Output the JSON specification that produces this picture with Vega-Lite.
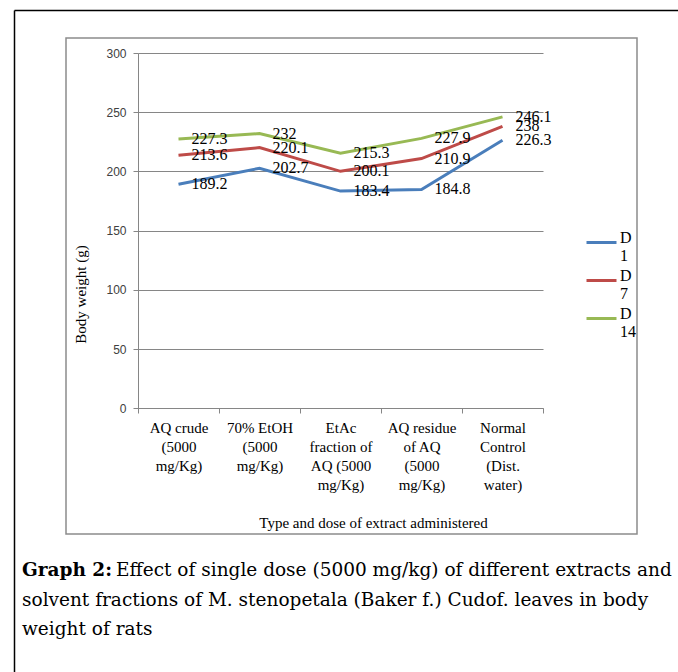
{
  "$schema": "https://vega.github.io/schema/vega-lite/v6.json",
  "width": 571,
  "height": 496,
  "autosize": {"type": "none"},
  "padding": {"left": 66, "top": 38, "right": 41, "bottom": 138},
  "background": "white",
  "view": {"stroke": "#8c8c8c", "strokeWidth": 1.5},
  "title": {
    "text": "Graph 2:",
    "subtitle": [
      "\u200b\u00a0\u00a0\u00a0\u00a0\u00a0\u00a0\u00a0\u00a0\u00a0\u00a0\u00a0\u00a0\u00a0\u00a0\u00a0\u00a0Effect of single dose (5000 mg/kg) of different extracts and",
      "solvent fractions of M. stenopetala (Baker f.) Cudof. leaves in body",
      "weight of rats"
    ],
    "orient": "bottom",
    "anchor": "start",
    "frame": "group",
    "font": "DejaVu Serif",
    "fontSize": 18.5,
    "fontWeight": "bold",
    "color": "black",
    "subtitleFont": "DejaVu Serif",
    "subtitleFontSize": 18.5,
    "subtitleColor": "black",
    "subtitleLineHeight": 29.5,
    "subtitlePadding": -18.5,
    "dx": -44,
    "offset": -139
  },
  "data": {
    "values": [
      {"type": "AQ crude (5000 mg/Kg)", "day": "D 1", "weight": 189.2},
      {"type": "70% EtOH (5000 mg/Kg)", "day": "D 1", "weight": 202.7},
      {"type": "EtAc fraction of AQ (5000 mg/Kg)", "day": "D 1", "weight": 183.4},
      {"type": "AQ residue of AQ (5000 mg/Kg)", "day": "D 1", "weight": 184.8},
      {"type": "Normal Control (Dist. water)", "day": "D 1", "weight": 226.3},
      {"type": "AQ crude (5000 mg/Kg)", "day": "D 7", "weight": 213.6},
      {"type": "70% EtOH (5000 mg/Kg)", "day": "D 7", "weight": 220.1},
      {"type": "EtAc fraction of AQ (5000 mg/Kg)", "day": "D 7", "weight": 200.1},
      {"type": "AQ residue of AQ (5000 mg/Kg)", "day": "D 7", "weight": 210.9},
      {"type": "Normal Control (Dist. water)", "day": "D 7", "weight": 238},
      {"type": "AQ crude (5000 mg/Kg)", "day": "D 14", "weight": 227.3},
      {"type": "70% EtOH (5000 mg/Kg)", "day": "D 14", "weight": 232},
      {"type": "EtAc fraction of AQ (5000 mg/Kg)", "day": "D 14", "weight": 215.3},
      {"type": "AQ residue of AQ (5000 mg/Kg)", "day": "D 14", "weight": 227.9},
      {"type": "Normal Control (Dist. water)", "day": "D 14", "weight": 246.1}
    ]
  },
  "layer": [
    {
      "encoding": {
        "x": {
          "field": "type",
          "type": "nominal",
          "scale": {
            "type": "band",
            "domain": ["AQ crude (5000 mg/Kg)", "70% EtOH (5000 mg/Kg)", "EtAc fraction of AQ (5000 mg/Kg)", "AQ residue of AQ (5000 mg/Kg)", "Normal Control (Dist. water)"],
            "range": [72, 477],
            "paddingInner": 0,
            "paddingOuter": 0
          },
          "axis": {
            "orient": "bottom",
            "offset": -126,
            "tickBand": "extent",
            "tickSize": 5,
            "tickColor": "#868686",
            "domainColor": "#868686",
            "grid": false,
            "labelAngle": 0,
            "labelFont": "Liberation Serif",
            "labelFontSize": 15,
            "labelColor": "black",
            "labelLineHeight": 19,
            "labelBaseline": "top",
            "labelPadding": 7,
            "labelOverlap": false,
            "labelExpr": "datum.label == 'AQ crude (5000 mg/Kg)' ? ['AQ crude', '(5000', 'mg/Kg)'] : datum.label == '70% EtOH (5000 mg/Kg)' ? ['70% EtOH', '(5000', 'mg/Kg)'] : datum.label == 'EtAc fraction of AQ (5000 mg/Kg)' ? ['EtAc', 'fraction of', 'AQ (5000', 'mg/Kg)'] : datum.label == 'AQ residue of AQ (5000 mg/Kg)' ? ['AQ residue', 'of AQ', '(5000', 'mg/Kg)'] : datum.label == 'Normal Control (Dist. water)' ? ['Normal', 'Control', '(Dist.', 'water)'] : ''",
            "title": "Type and dose of extract administered",
            "titleFont": "Liberation Serif",
            "titleFontSize": 15,
            "titleFontWeight": "normal",
            "titleColor": "black",
            "titleX": 307,
            "titleY": 114,
            "titleAlign": "center",
            "titleBaseline": "middle"
          }
        },
        "y": {
          "field": "weight",
          "type": "quantitative",
          "scale": {"domain": [0, 300], "range": [370.3, 15], "nice": false},
          "axis": {
            "values": [0, 50, 100, 150, 200, 250, 300],
            "offset": -72,
            "domainColor": "#868686",
            "tickColor": "#868686",
            "tickSize": 5,
            "grid": true,
            "gridColor": "#868686",
            "gridWidth": 1,
            "labelFont": "Liberation Sans",
            "labelFontSize": 12,
            "labelColor": "#404040",
            "labelPadding": 7,
            "title": "Body weight (g)",
            "titleFont": "Liberation Serif",
            "titleFontSize": 15,
            "titleFontWeight": "normal",
            "titleColor": "black",
            "titleX": -58,
            "titleY": 256,
            "titleAngle": 270,
            "titleAlign": "center",
            "titleBaseline": "middle"
          }
        }
      },
      "layer": [
        {
          "mark": {"type": "line", "strokeWidth": 3},
          "encoding": {
            "color": {
              "field": "day",
              "type": "nominal",
              "scale": {"domain": ["D 1", "D 7", "D 14"], "range": ["#4a7ebb", "#be4b48", "#98b954"]},
              "legend": {
                "orient": "none",
                "legendX": 519,
                "legendY": 188,
                "title": null,
                "labelExpr": "split(datum.label, ' ')",
                "labelFont": "Liberation Serif",
                "labelFontSize": 16,
                "labelLineHeight": 20,
                "labelColor": "black",
                "symbolType": "stroke",
                "symbolSize": 900,
                "symbolStrokeWidth": 3,
                "labelOffset": 2,
                "rowPadding": -1,
                "labelBaseline": "alphabetic"
              }
            }
          }
        },
        {
          "mark": {"type": "text", "dx": 13, "align": "left", "baseline": "middle", "font": "Liberation Serif", "fontSize": 16, "color": "black"},
          "encoding": {"text": {"field": "weight", "type": "quantitative"}}
        }
      ]
    },
    {
      "mark": {"type": "point", "opacity": 0},
      "encoding": {
        "x": {
          "field": "type",
          "type": "nominal",
          "scale": {"type": "band", "range": [-52, 620]},
          "axis": {"orient": "top", "offset": 28, "domain": true, "domainColor": "black", "domainWidth": 1.5, "ticks": false, "labels": false, "title": null, "grid": false}
        },
        "y": {
          "field": "weight",
          "type": "quantitative",
          "scale": {"domain": [0, 300], "range": [634, -28]},
          "axis": {"orient": "left", "offset": 52, "domain": true, "domainColor": "black", "domainWidth": 1.5, "ticks": false, "labels": false, "title": null, "grid": false}
        }
      }
    }
  ],
  "resolve": {
    "scale": {"x": "independent", "y": "independent"},
    "axis": {"x": "independent", "y": "independent"}
  }
}
